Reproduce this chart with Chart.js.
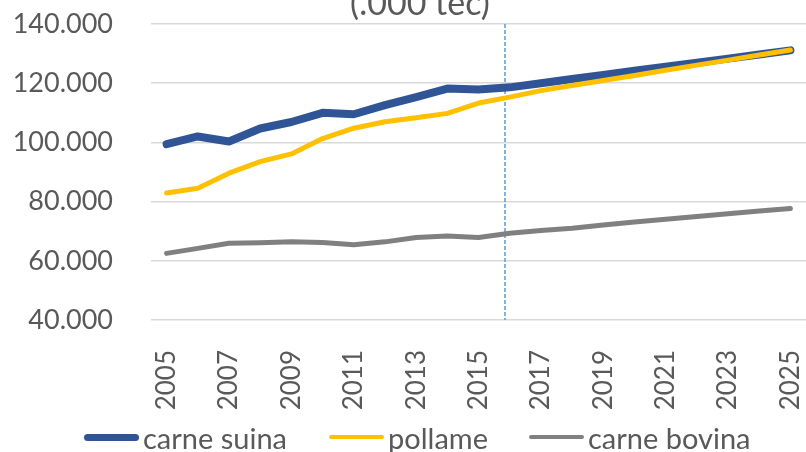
<!DOCTYPE html>
<html>
<head>
<meta charset="utf-8">
<script src="https://cdn.jsdelivr.net/npm/chart.js@4/dist/chart.umd.min.js"></script>
<style>
    html, body { margin: 0; padding: 0; background: #fff; overflow: hidden; }
    #wrap { position: relative; width: 806px; height: 452px; }
    #legend {
        position: absolute; left: 84px; top: 421px; height: 32px;
        display: flex; align-items: center;
        font-family: Lato, sans-serif; font-size: 29px; color: #595959;
    }
    .item { display: flex; align-items: center; white-space: nowrap; }
    .swatch { width: 55px; border-radius: 4px; margin-right: 4px; }
</style>
</head>
<body>
<div id="wrap">
    <canvas id="meatChart" width="806" height="452"></canvas>
    <div id="legend"></div>
</div>
<script>
// dati (.000 tec)
const years = ['2005', '2006', '2007', '2008', '2009', '2010', '2011', '2012', '2013', '2014', '2015',
               '2016', '2017', '2018', '2019', '2020', '2021', '2022', '2023', '2024', '2025'];
const carneSuina = [99400, 102000, 100300, 104700, 106900, 110000, 109500, 112600, 115300, 118200, 117900,
                    118600, 120000, 121400, 122800, 124200, 125600, 126900, 128300, 129700, 131100];
const pollame = [82900, 84500, 89600, 93500, 96100, 101300, 104800, 107000, 108300, 109800, 113300,
                 115300, 117500, 119200, 120900, 122600, 124400, 126100, 127800, 129500, 131200];
const carneBovina = [62500, 64200, 65900, 66100, 66400, 66200, 65400, 66400, 67900, 68400, 67900,
                     69300, 70200, 71000, 72100, 73100, 74000, 75000, 75900, 76800, 77700];
const yTicks = [40000, 60000, 80000, 100000, 120000, 140000];
const titleText = '(.000 tec)';
// posizione della linea tratteggiata (indice sull'asse delle categorie)
const forecastMarker = 10.85;

const series = [
    { label: 'carne suina', data: carneSuina, color: '#2f5597', width: 8, order: 3, legendWidth: 245 },
    { label: 'pollame', data: pollame, color: '#ffc000', width: 5, order: 2, legendWidth: 200 },
    { label: 'carne bovina', data: carneBovina, color: '#808080', width: 5, order: 1, legendWidth: 230 }
];

function formatThousands(v) {
    return String(v).replace(/\B(?=(\d{3})+(?!\d))/g, '.');
}

// niente padding automatico: l'area del grafico la decidono layout e afterFit
function noPadding(s) {
    s.paddingTop = 0;
    s.paddingBottom = 0;
    s.paddingLeft = 0;
    s.paddingRight = 0;
}

const markerAndTitle = {
    id: 'markerAndTitle',
    beforeDatasetsDraw(chart) {
        const ctx = chart.ctx;
        const x = chart.scales.x.getPixelForValue(forecastMarker);
        const area = chart.chartArea;
        ctx.save();
        ctx.strokeStyle = '#5b9bd5';
        ctx.lineWidth = 1.5;
        ctx.setLineDash([4, 2]);
        ctx.beginPath();
        ctx.moveTo(Math.round(x), area.top);
        ctx.lineTo(Math.round(x), area.bottom);
        ctx.stroke();
        ctx.restore();
    },
    afterDraw(chart) {
        const ctx = chart.ctx;
        ctx.save();
        ctx.font = '34px Lato, sans-serif';
        ctx.fillStyle = '#595959';
        ctx.textAlign = 'center';
        ctx.textBaseline = 'alphabetic';
        ctx.fillText(titleText, 420, 15);
        ctx.restore();
    }
};

const ctxChart = document.getElementById('meatChart');
new Chart(ctxChart, {
    type: 'line',
    data: {
        labels: years,
        datasets: series.map(s => ({
            label: s.label,
            data: s.data,
            borderColor: s.color,
            backgroundColor: s.color,
            borderWidth: s.width,
            borderCapStyle: 'round',
            borderJoinStyle: 'round',
            pointRadius: 0,
            pointHoverRadius: 0,
            tension: 0,
            fill: false,
            order: s.order
        }))
    },
    options: {
        responsive: false,
        animation: false,
        layout: { padding: { top: 24, right: 0, bottom: 0, left: 0 } },
        plugins: {
            legend: { display: false },
            title: { display: false },
            tooltip: { enabled: false }
        },
        scales: {
            x: {
                offset: true,
                grid: { display: false },
                border: { display: false },
                afterFit: s => { s.height = 132; noPadding(s); },
                ticks: {
                    autoSkip: false,
                    minRotation: 90,
                    maxRotation: 90,
                    padding: 22,
                    color: '#595959',
                    font: { family: 'Lato', size: 26 },
                    callback: function(value, index) {
                        return index % 2 === 0 ? this.getLabelForValue(value) : '';
                    }
                }
            },
            y: {
                min: yTicks[0],
                max: yTicks[yTicks.length - 1],
                afterFit: s => { s.width = 151; noPadding(s); },
                afterBuildTicks: s => { s.ticks = yTicks.map(v => ({ value: v })); },
                grid: { color: '#d9d9d9', lineWidth: 1.5, drawTicks: false },
                border: { display: false },
                ticks: {
                    padding: 38,
                    color: '#595959',
                    font: { family: 'Lato', size: 27 },
                    callback: v => formatThousands(v)
                }
            }
        }
    },
    plugins: [markerAndTitle]
});

const legend = document.getElementById('legend');
series.forEach(s => {
    legend.insertAdjacentHTML('beforeend',
        `<div class="item" style="width:${s.legendWidth}px"><span class="swatch" style="height:${s.width - 1}px;background:${s.color}"></span><span>${s.label}</span></div>`);
});
</script>
</body>
</html>
